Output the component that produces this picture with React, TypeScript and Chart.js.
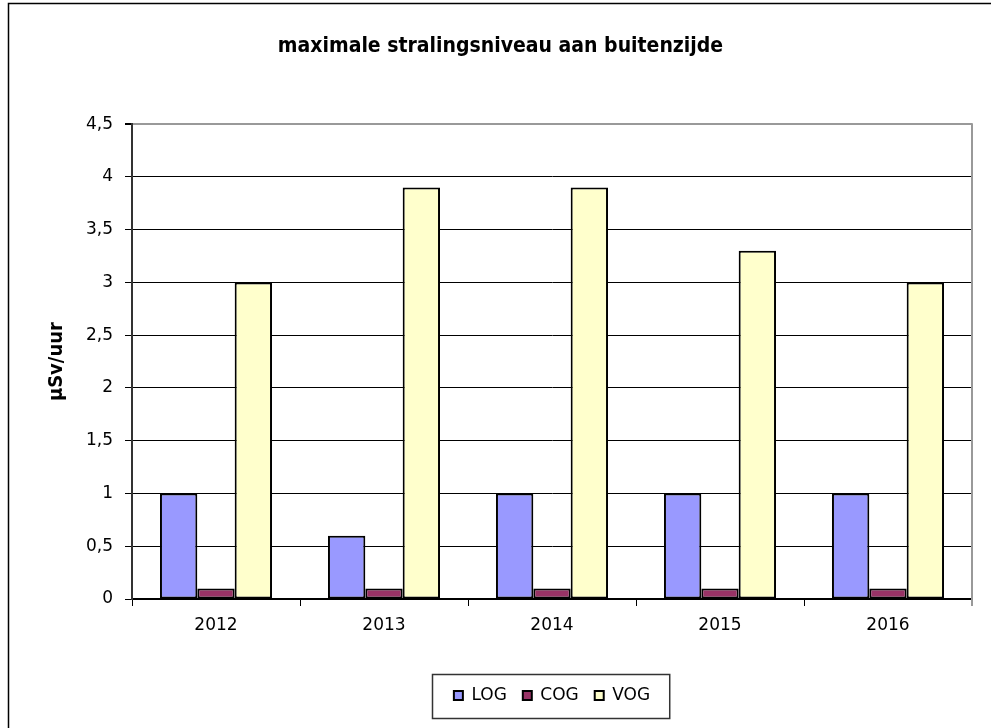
import React, { useEffect, useRef } from "react";
import { Chart, registerables } from "chart.js";

Chart.register(...registerables);

const categories = ["2012", "2013", "2014", "2015", "2016"];
const seriesNames = ["LOG", "COG", "VOG"];
const logValues = [1, 0.6, 1, 1, 1];
const cogValues = [0.1, 0.1, 0.1, 0.1, 0.1];
const vogValues = [3, 3.9, 3.9, 3.3, 3];
const seriesColors = ["#9999FF", "#993366", "#FFFFCC"];
const yTicks = [0, 0.5, 1, 1.5, 2, 2.5, 3, 3.5, 4, 4.5];
const titleText = "maximale stralingsniveau aan buitenzijde";
const yTitle = "µSv/uur";

const FONT = "'DejaVu Sans', sans-serif";
const TFONT = "'DejaVu Sans Condensed', 'DejaVu Sans', sans-serif";

const framePlugin = {
  id: "framePlugin",
  beforeDraw(chart: any) {
    const ctx = chart.ctx;
    ctx.save();
    ctx.fillStyle = "#fff";
    ctx.fillRect(0, 0, chart.width, chart.height);
    ctx.strokeStyle = "#000";
    ctx.lineWidth = 1.5;
    ctx.strokeRect(8.5, 3.5, 2000, 2000);
    ctx.restore();
  },
  afterDraw(chart: any) {
    const ctx = chart.ctx;
    const a = chart.chartArea;
    ctx.save();
    ctx.strokeStyle = "#999";
    ctx.lineWidth = 2;
    ctx.beginPath();
    ctx.moveTo(a.right, a.top - 1);
    ctx.lineTo(a.right, a.bottom + 7);
    ctx.stroke();
    const boxes = chart.legend && chart.legend.legendHitBoxes;
    if (boxes && boxes.length) {
      let l = Infinity, r = -Infinity, t = Infinity, b = -Infinity;
      boxes.forEach((h: any) => {
        l = Math.min(l, h.left);
        r = Math.max(r, h.left + h.width);
        t = Math.min(t, h.top);
        b = Math.max(b, h.top + h.height);
      });
      ctx.strokeStyle = "#333";
      ctx.lineWidth = 1.5;
      ctx.strokeRect(Math.round(l - 22) + 0.5, Math.round(t - 13) + 0.5, r - l + 41, b - t + 27);
    }
    ctx.restore();
  },
};

export default function App() {
  const ref = useRef<HTMLCanvasElement>(null);
  useEffect(() => {
    if (!ref.current) return;
    const data = [logValues, cogValues, vogValues];
    const chart = new Chart(ref.current, {
      type: "bar",
      data: {
        labels: categories,
        datasets: seriesNames.map((name, i) => ({
          label: name,
          data: data[i],
          backgroundColor: seriesColors[i],
          borderColor: "#000",
          borderWidth: 2,
          borderSkipped: false,
          categoryPercentage: 0.667,
          barPercentage: 1,
        })),
      },
      options: {
        responsive: false,
        animation: false,
        devicePixelRatio: 1,
        layout: { padding: { left: 29, right: 19, top: 0, bottom: 14 } },
        plugins: {
          title: {
            display: true,
            text: titleText,
            color: "#000",
            font: { family: TFONT, size: 21, weight: "bold" },
            padding: { top: 34, bottom: 65 },
          },
          legend: {
            position: "bottom",
            fullSize: false,
            labels: {
              color: "#000",
              font: { family: FONT, size: 17 },
              boxWidth: 9,
              boxHeight: 9,
              padding: 16,
            },
          },
          tooltip: { enabled: false },
        },
        scales: {
          x: {
            afterFit: (s: any) => {
              s.height = 72;
            },
            grid: {
              offset: true,
              drawOnChartArea: false,
              drawTicks: true,
              tickLength: 7,
              color: "#000",
            },
            border: { display: true, color: "#000", width: 2 },
            ticks: {
              color: "#000",
              font: { family: FONT, size: 17 },
              padding: 9,
            },
          },
          y: {
            min: 0,
            max: 4.5,
            afterFit: (s: any) => {
              s.width = 103;
            },
            afterBuildTicks: (s: any) => {
              s.ticks = yTicks.map((v) => ({ value: v }));
            },
            grid: {
              drawTicks: true,
              tickLength: 7,
              color: (c: any) => (c.tick && c.tick.value === 4.5 ? "#999" : "#000"),
              tickColor: "#000",
              lineWidth: (c: any) => (c.tick && c.tick.value === 4.5 ? 2 : 1),
            },
            border: { display: true, color: "#333", width: 2 },
            ticks: {
              color: "#000",
              font: { family: FONT, size: 17 },
              padding: 12,
              callback: (v: any) => String(v).replace(".", ","),
            },
            title: {
              display: true,
              text: yTitle,
              color: "#000",
              font: { family: TFONT, size: 20, weight: "bold" },
              padding: { top: 16, bottom: 0 },
            },
          },
        },
      },
      plugins: [framePlugin],
    } as any);
    return () => chart.destroy();
  }, []);
  return (
    <canvas
      ref={ref}
      width={991}
      height={728}
      style={{ position: "absolute", left: 0, top: 0, display: "block" }}
    />
  );
}
